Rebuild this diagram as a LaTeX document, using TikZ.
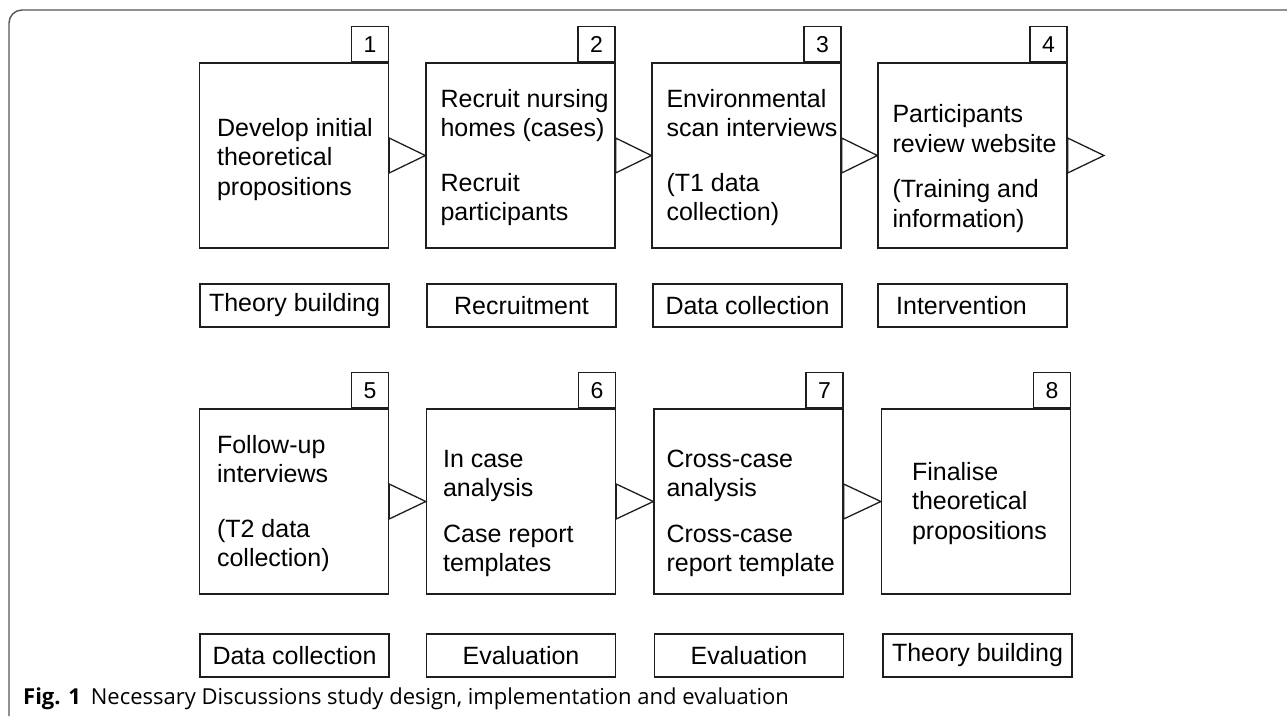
\documentclass[tikz,border=0pt]{standalone}
\usepackage{fontspec}
\setmainfont{Liberation Sans}
\newfontfamily\capfont{Open Sans}
\usetikzlibrary{positioning,calc}

\definecolor{inkline}{HTML}{1E1E1E}
\definecolor{framegray}{HTML}{555555}

\tikzset{
  stagebox/.style={draw=inkline,line width=1.3pt,minimum width=189pt,minimum height=185pt,inner sep=0pt},
  numbox/.style={draw=inkline,line width=1.3pt,minimum width=37pt,minimum height=35pt,inner sep=0pt,
    font=\fontsize{23}{27}\selectfont},
  stagetext/.style={align=left,inner sep=0pt,font=\fontsize{25}{29.5}\selectfont},
  phasebox/.style={draw=inkline,line width=1.3pt,minimum width=189pt,minimum height=43pt,inner sep=0pt,
    font=\fontsize{25}{29.5}\selectfont},
  pointer/.style={draw=inkline,line width=1.3pt,line join=miter}
}

\begin{document}
\begin{tikzpicture}[x=1pt,y=-1pt]
\useasboundingbox (0,0) rectangle (1287,716);

% outer frame
\draw[framegray,line width=1.4pt] (1287,10) -- (22,10) arc (270:180:13) -- (9,716);

\foreach \n/\x/\y in {1/294/155.5,2/520.5/155.5,3/746.5/155.5,4/972.5/155.5,
                      5/294/501.5,6/521/501.5,7/748.5/501.5,8/976/501.5}
{
\node[stagebox] (b\n) at (\x,\y) {};
\node[numbox,anchor=south east] (n\n) at (b\n.north east) {\n};
}

\node[stagetext,right=18pt of b1.west,yshift=-4pt] (t1) {Develop initial\\theoretical\\propositions};
\node[stagetext,right=15pt of b2.west,yshift=-2pt] (t2) {Recruit nursing\\homes (cases)\\[25pt]Recruit\\participants};
\node[stagetext,right=15pt of b3.west,yshift=-2pt] (t3) {Environmental\\scan interviews\\[25pt](T1 data\\collection)};
\node[stagetext,right=15pt of b4.west,yshift=-13pt] (t4) {Participants\\review website\\[16pt](Training and\\information)};
\node[stagetext,right=18pt of b5.west,yshift=-2pt] (t5) {Follow-up\\interviews\\[25pt](T2 data\\collection)};
\node[stagetext,right=17pt of b6.west,yshift=-12pt] (t6) {In case\\analysis\\[16pt]Case report\\templates};
\node[stagetext,right=13pt of b7.west,yshift=-12pt] (t7) {Cross-case\\analysis\\[16pt]Cross-case\\report template};
\node[stagetext,right=31pt of b8.west,yshift=-2pt] (t8) {Finalise\\theoretical\\propositions};

% phase labels
\node[phasebox] (l1) at (294.5,305.5) {Theory building};
\node[phasebox] (l2) at (521.5,305.5) {Recruitment};
\node[phasebox] (l3) at (747.5,305.5) {Data collection};
\node[phasebox] (l4) at (972.5,305.5) {\hspace*{-22pt}Intervention};
\node[phasebox] (l5) at (294.5,655.5) {Data collection};
\node[phasebox] (l6) at (521,655.5) {Evaluation};
\node[phasebox] (l7) at (749,655.5) {Evaluation};
\node[phasebox] (l8) at (977.5,655.5) {Theory building};

% open triangles between stages
\coordinate (e4) at (1104,155.5);
\foreach \a/\b in {b1/b2,b2/b3,b3/b4,b4/e4,b5/b6,b6/b7,b7/b8}
  \draw[pointer] ($(\a.east)+(0,-17.5)$) -- (\b.west) -- ($(\a.east)+(0,17.5)$) -- cycle;

\node[anchor=base west,inner sep=0pt] (cap) at (23,704)
  {\capfont\fontsize{22}{26}\selectfont\textbf{Fig. 1}\hspace{10pt}Necessary Discussions study design, implementation and evaluation};
\end{tikzpicture}
\end{document}
